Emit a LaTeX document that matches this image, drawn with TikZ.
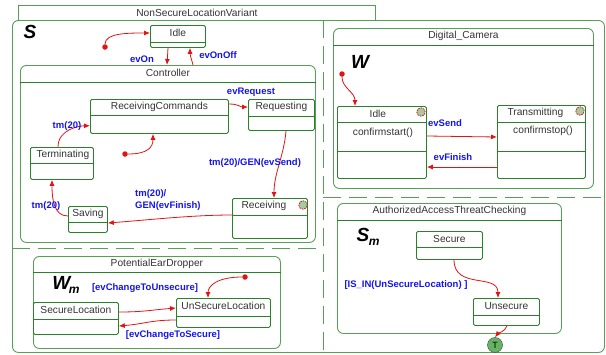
\documentclass[tikz,border=0pt]{standalone}
\usepackage{fontspec}
\setmainfont{Liberation Sans}
\usepackage{xcolor}
\usetikzlibrary{positioning,arrows.meta,calc}

\definecolor{frame}{RGB}{85,160,85}
\definecolor{stline}{RGB}{40,130,40}
\definecolor{trred}{RGB}{225,20,20}
\definecolor{evblue}{RGB}{20,20,235}
\definecolor{termgreen}{RGB}{100,180,100}

\begin{document}
\begin{tikzpicture}[x=1pt,y=-1pt,
  dims/.style 2 args={minimum width=#1pt,minimum height=#2pt},
  region/.style={draw=frame,line width=0.9pt,rounded corners=6pt,anchor=north west,inner sep=0pt},
  state/.style={draw=stline,line width=0.8pt,rounded corners=1.5pt,anchor=north west,inner sep=0pt},
  sname/.style={font=\fontsize{10.2}{12}\selectfont,text=black!80},
  evlabel/.style={font=\bfseries\fontsize{9.5}{12}\selectfont,text=evblue},
  trans/.style={draw=trred,line width=0.8pt,-{Latex[length=6pt,width=5pt]}},
  initial/.style={circle,fill=trred,inner sep=0pt,minimum size=5.5pt},
  divider/.style={draw=stline,line width=0.7pt},
  andline/.style={draw=frame,line width=1pt,dash pattern=on 18pt off 8pt},
  bigletter/.style={font=\bfseries\itshape\fontsize{19}{19}\selectfont,inner sep=1pt},
  icon/.style={circle,draw=trred,line width=0.8pt,dash pattern=on 1.6pt off 1pt,fill=frame!55,minimum size=8.5pt,inner sep=0pt}]
\useasboundingbox (0,0) rectangle (606,354);

% outer and-state with its tab
\node[region,dims={592}{332}] (variant) at (12,20) {};
\node[draw=frame,line width=0.9pt,anchor=north west,inner sep=0pt,dims={357}{15},sname] (tab) at (18,5) {NonSecureLocationVariant};
\draw[andline] (323,20) -- (323,352);
\draw[andline] (12,248) -- (323,248);
\draw[andline] (323,197) -- (604,197);

% composite states
\node[region,dims={295}{177}] (ctrl) at (20,65) {};
\node[region,dims={247}{92}] (ped) at (33,256) {};
\node[region,dims={260}{160}] (dc) at (333,28) {};
\node[region,dims={224}{130}] (aatc) at (337,203) {};

% simple states
\node[state,dims={55}{22}] (idle) at (150,25) {};
\node[state,dims={138}{34}] (rc) at (90,99) {};
\node[state,dims={66}{31}] (req) at (248,99) {};
\node[state,dims={63}{32}] (term) at (30,147) {};
\node[state,dims={39}{26}] (saving) at (68,206) {};
\node[state,dims={75}{40}] (recv) at (232,198) {};
\node[state,dims={85}{32}] (sl) at (33,302) {};
\node[state,dims={94}{29}] (usl) at (176,298) {};
\node[state,dims={89}{72}] (idle2) at (337,106) {};
\node[state,dims={88}{73}] (trans) at (497,105) {};
\node[state,dims={66}{28}] (secure) at (416,231) {};
\node[state,dims={66}{27}] (unsecure) at (473,298) {};

\foreach \s/\d in {idle/17,ctrl/17,rc/16,req/17,term/16,saving/16,recv/17,ped/16,sl/17,usl/18,
    dc/17,idle2/16,idle2/45,trans/17,trans/46,aatc/17,secure/16,unsecure/17}
  \draw[divider] ($(\s.north west)+(0,\d)$) -- ($(\s.north east)+(0,\d)$);

\foreach \s/\dx/\t in {idle/0/Idle,ctrl/0/Controller,rc/0/ReceivingCommands,req/0/Requesting,
    term/1/Terminating,saving/0/Saving,recv/-6/Receiving,ped/0/PotentialEarDropper,
    sl/0/SecureLocation,usl/0/UnSecureLocation,dc/0/Digital\_Camera,idle2/-4/Idle,
    trans/-6/Transmitting,aatc/0/AuthorizedAccessThreatChecking,secure/0/Secure,unsecure/0/Unsecure}
  \node[sname] (\s-name) at ($(\s.north)+(\dx,8)$) {\t};

\node[sname] (idle2-act) at (383,133) {confirmstart()};
\node[sname] (trans-act) at (543,131) {confirmstop()};
\node[icon] (recv-icon) at (303,205) {};
\node[icon] (idle2-icon) at (421,112) {};
\node[icon] (trans-icon) at (580,111) {};

% region names
\node[bigletter] (s-letter) at (30,32) {S};
\node[bigletter] (w-letter) at (360,62) {W};
\node[bigletter] (sm-letter) at (368,237) {S\kern-0.5pt\raisebox{-4pt}{\fontsize{12}{12}\selectfont m}};
\node[bigletter] (wm-letter) at (66,285) {W\kern-1.5pt\raisebox{-4pt}{\fontsize{12}{12}\selectfont m}};

% initial states and final state
\node[initial] (init1) at (105,47) {};
\node[initial] (init2) at (125,154) {};
\node[initial] (init3) at (245,277) {};
\node[initial] (init4) at (342,74) {};
\node[circle,draw=black!75,fill=termgreen,minimum size=15pt,inner sep=0pt,font=\fontsize{9}{9}\selectfont] (final) at (495,345) {T};

% transitions in S
\draw[trans] (init1) .. controls +(0,-14) and +(-22,0) .. ($(idle.north west)+(0,8)$);
\draw[trans] ($(idle.south west)+(18,0)$) -- ($(ctrl.north west)+(147,0)$);
\draw[trans] ($(ctrl.north west)+(173,0)$) .. controls +(-2,-8) and +(0,8) .. ($(idle.south west)+(40,0)$);
\draw[trans] ($(rc.north east)+(0,5)$) .. controls +(10,0) and +(-8,0) .. ($(req.north west)+(0,8)$);
\draw[trans] (init2) .. controls +(22,0) and +(0,14) .. ($(rc.south west)+(63,0)$);
\draw[trans] ($(term.north west)+(28,0)$) .. controls +(0,-18) and +(-10,0) .. ($(rc.south west)+(0,-8)$);
\draw[trans] ($(req.south west)+(38,0)$) .. controls +(-2,25) and +(0,-25) .. ($(recv.north west)+(42,0)$);
\draw[trans] ($(recv.north west)+(0,17)$) .. controls +(-40,0) and +(40,-3) .. ($(saving.north east)+(0,17)$);
\draw[trans] ($(saving.north west)+(0,10)$) .. controls +(-14,0) and +(0,20) .. ($(term.south west)+(22,0)$);
\node[evlabel] (l-evon) at (142,59) {evOn};
\node[evlabel] (l-evonoff) at (218,55) {evOnOff};
\node[evlabel] (l-evrequest) at (251,92) {evRequest};
\node[evlabel] (l-tm1) at (67,126) {tm(20)};
\node[evlabel] (l-evsend) at (255,163) {tm(20)/GEN(evSend)};
\node[evlabel,anchor=north west,align=left,inner sep=0pt] (l-evfinish) at (135,189) {tm(20)/\\GEN(evFinish)};
\node[evlabel] (l-tm3) at (46,206) {tm(20)};

% transitions in Wm
\draw[trans] (init3) .. controls +(-28,0) and +(0,-12) .. ($(usl.north west)+(32,0)$);
\draw[trans] ($(sl.north east)+(0,10)$) .. controls +(25,0) and +(-25,2) .. ($(usl.north west)+(0,10)$);
\draw[trans] ($(usl.north west)+(0,22)$) .. controls +(-25,0) and +(25,-2) .. ($(sl.north east)+(0,24)$);
\node[evlabel] (l-tounsecure) at (145,288) {[evChangeToUnsecure]};
\node[evlabel] (l-tosecure) at (173,335) {[evChangeToSecure]};

% transitions in W
\draw[trans] (init4) .. controls +(0,14) and +(0,-14) .. ($(idle2.north west)+(18,0)$);
\draw[trans] ($(idle2.north east)+(0,30)$) -- ($(trans.north west)+(0,32)$);
\draw[trans] ($(trans.north west)+(0,62)$) -- ($(idle2.north east)+(0,61)$);
\node[evlabel] (l-send) at (445,123) {evSend};
\node[evlabel] (l-finish) at (453,157) {evFinish};

% transitions in Sm
\draw[trans] ($(secure.south west)+(38,0)$) .. controls +(0,30) and +(0,-25) .. ($(unsecure.north west)+(25,0)$);
\draw[trans] ($(unsecure.south west)+(34,0)$) .. controls +(-2,6) and +(3,-4) .. (final.north);
\node[evlabel] (l-isin) at (406,285) {[IS\_IN(UnSecureLocation) ]};
\end{tikzpicture}
\end{document}
